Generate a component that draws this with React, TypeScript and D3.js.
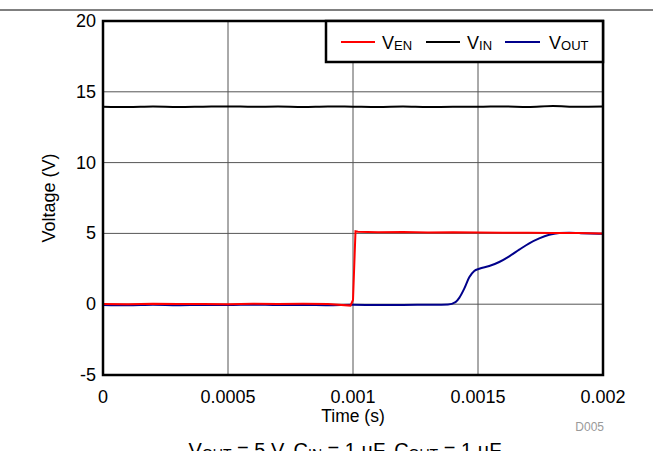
import React from "react";
import * as d3 from "d3";

const xTicks = [0, 0.0005, 0.001, 0.0015, 0.002];
const xTickLabels = ["0", "0.0005", "0.001", "0.0015", "0.002"];
const yTicks = [-5, 0, 5, 10, 15, 20];

const vinTime = [0, 0.0001, 0.0002, 0.0003, 0.0004, 0.0005, 0.0006, 0.0007, 0.0008, 0.0009, 0.001, 0.0011, 0.0012, 0.0013, 0.0014, 0.0015, 0.0016, 0.0017, 0.0018, 0.0019, 0.002];
const vinValues = [13.95, 13.92, 13.96, 13.93, 13.95, 13.97, 13.94, 13.96, 13.93, 13.97, 13.95, 13.93, 13.96, 13.92, 13.95, 13.94, 13.97, 13.93, 14.0, 13.94, 13.96];

const venTime = [0, 0.0001, 0.0002, 0.0003, 0.0004, 0.0005, 0.0006, 0.0007, 0.0008, 0.0009, 0.00099, 0.001, 0.00101, 0.00102, 0.0011, 0.0012, 0.0013, 0.0014, 0.0015, 0.0016, 0.0017, 0.0018, 0.0019, 0.002];
const venValues = [0.02, 0.0, 0.03, 0.01, 0.02, 0.0, 0.04, 0.01, 0.03, 0.02, -0.1, 0.3, 5.15, 5.12, 5.08, 5.1, 5.07, 5.09, 5.06, 5.05, 5.04, 5.03, 5.02, 5.0];

const voutTime = [0, 0.0001, 0.0002, 0.0003, 0.0004, 0.0005, 0.0006, 0.0007, 0.0008, 0.0009, 0.001, 0.0011, 0.0012, 0.0013, 0.00138, 0.00141, 0.001425, 0.001445, 0.001465, 0.001485, 0.001505, 0.001545, 0.001585, 0.001625, 0.001665, 0.001705, 0.001745, 0.001785, 0.001825, 0.001865, 0.001905, 0.00195, 0.002];
const voutValues = [-0.05, -0.08, -0.04, -0.07, -0.05, -0.06, -0.03, -0.06, -0.05, -0.07, -0.04, -0.06, -0.05, -0.04, -0.02, 0.15, 0.45, 1.1, 1.9, 2.35, 2.5, 2.7, 2.98, 3.38, 3.85, 4.3, 4.65, 4.9, 5.02, 5.05, 5.02, 4.99, 4.97];

const seriesNames = ["EN", "IN", "OUT"];
const seriesColors = ["#ff0000", "#000000", "#00008b"];

export default function App() {
  const W = 653, H = 451;
  const left = 103, right = 603, top = 21, bottom = 375;
  const x = d3.scaleLinear().domain([0, 0.002]).range([left, right]);
  const y = d3.scaleLinear().domain([-5, 20]).range([bottom, top]);
  const line = d3.line<[number, number]>().x(d => x(d[0])).y(d => y(d[1])).curve(d3.curveMonotoneX);
  const mk = (t: number[], v: number[]) => t.map((tt, i) => [tt, v[i]] as [number, number]);
  const font = "'Liberation Sans', Arial, sans-serif";
  const fs = 18;

  const legendItems = [
    { x1: 341, x2: 375, tx: 382, color: seriesColors[0], sub: seriesNames[0] },
    { x1: 426, x2: 460, tx: 467, color: seriesColors[1], sub: seriesNames[1] },
    { x1: 505, x2: 540, tx: 549, color: seriesColors[2], sub: seriesNames[2] },
  ];

  return (
    <svg width={W} height={H} style={{ position: "absolute", left: 0, top: 0, background: "#fff" }} fontFamily={font}>
      <rect x={0} y={0} width={W} height={H} fill="#fff" />
      <line x1={0} x2={W} y1={10} y2={10} stroke="#000" strokeWidth={1} />
      {xTicks.slice(1, -1).map(t => (
        <line key={"gx" + t} x1={x(t)} x2={x(t)} y1={top} y2={bottom} stroke="#555" strokeWidth={1} />
      ))}
      {yTicks.slice(1, -1).map(t => (
        <line key={"gy" + t} x1={left} x2={right} y1={y(t)} y2={y(t)} stroke="#555" strokeWidth={1} />
      ))}
      <path d={line(mk(vinTime, vinValues)) || ""} fill="none" stroke={seriesColors[1]} strokeWidth={2} />
      <path d={line(mk(voutTime, voutValues)) || ""} fill="none" stroke={seriesColors[2]} strokeWidth={2} />
      <path d={d3.line<[number, number]>().x(d => x(d[0])).y(d => y(d[1]))(mk(venTime, venValues)) || ""} fill="none" stroke={seriesColors[0]} strokeWidth={2} />
      <rect x={left} y={top} width={right - left} height={bottom - top} fill="none" stroke="#000" strokeWidth={2.5} />
      {yTicks.map(t => (
        <text key={"ty" + t} x={96} y={y(t) + 6} textAnchor="end" fontSize={fs} fill="#000">{t}</text>
      ))}
      {xTicks.map((t, i) => (
        <text key={"tx" + t} x={x(t)} y={403} textAnchor="middle" fontSize={fs} fill="#000">{xTickLabels[i]}</text>
      ))}
      <text x={x(0.001)} y={422} textAnchor="middle" fontSize={17.5} fill="#000">Time (s)</text>
      <text transform={`translate(55,${(top + bottom) / 2}) rotate(-90)`} textAnchor="middle" fontSize={fs} fill="#000">Voltage (V)</text>
      <text x={604} y={431} textAnchor="end" fontSize={12} fill="#999">D005</text>
      <rect x={326} y={top} width={right - 326} height={41} fill="#fff" stroke="#000" strokeWidth={2.5} />
      {legendItems.map(it => (
        <g key={it.sub}>
          <line x1={it.x1} x2={it.x2} y1={42} y2={42} stroke={it.color} strokeWidth={2} />
          <text x={it.tx} y={49} fontSize={fs} fill="#000">V<tspan fontSize={13} dy={1}>{it.sub}</tspan></text>
        </g>
      ))}
      <text x={345} y={457} textAnchor="middle" fontSize={20} fill="#000">
        V<tspan fontSize={14} dy={2}>OUT</tspan><tspan dy={-2}> = 5 V, C</tspan><tspan fontSize={14} dy={2}>IN</tspan><tspan dy={-2}> = 1 µF, C</tspan><tspan fontSize={14} dy={2}>OUT</tspan><tspan dy={-2}> = 1 µF</tspan>
      </text>
    </svg>
  );
}
